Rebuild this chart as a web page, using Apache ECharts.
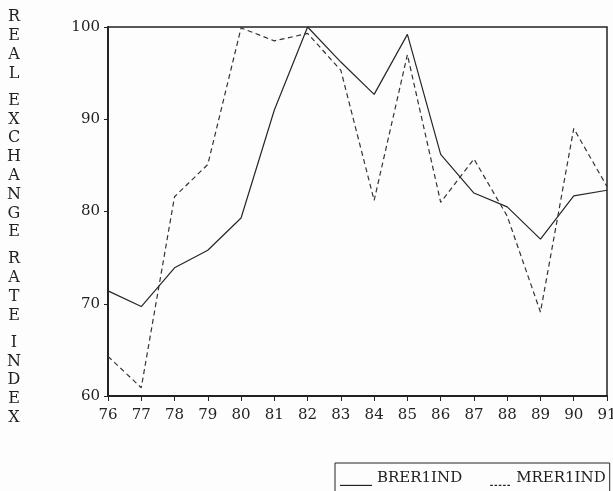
<!DOCTYPE html>
<html>
<head>
<meta charset="utf-8">
<script src="https://cdn.jsdelivr.net/npm/echarts@6/dist/echarts.min.js"></script>
<style>html,body{margin:0;padding:0;background:#fdfdfd;}#c{width:613px;height:491px;}</style>
</head>
<body>
<div id="c"></div>
<script>
var years = ['76','77','78','79','80','81','82','83','84','85','86','87','88','89','90','91'];
var brer1ind = [71.4, 69.7, 73.9, 75.8, 79.3, 91.0, 100.0, 96.2, 92.7, 99.2, 86.2, 82.0, 80.5, 77.0, 81.7, 82.3];
var mrer1ind = [64.3, 60.9, 81.6, 85.1, 99.9, 98.5, 99.3, 95.3, 81.2, 97.0, 81.0, 85.7, 79.5, 69.1, 89.0, 82.7];
var yTicks = [60, 70, 80, 90, 100];
var yTitle = 'REAL EXCHANGE RATE INDEX';

var FONT = '"DejaVu Serif", serif';
var INK = '#222';

// vertical stacked axis title
var titleEls = [];
var yPos = 17.3;
for (var i = 0; i < yTitle.length; i++) {
  var ch = yTitle[i];
  if (ch === ' ') { yPos += 27 - 18.8; continue; }
  titleEls.push({
    type: 'text',
    style: { text: ch, font: '16px ' + FONT, fill: INK, textAlign: 'center', textVerticalAlign: 'middle' },
    x: 14, y: yPos
  });
  yPos += 18.8;
}

var solidIcon = 'path://M0,0L0,0M0,14L32,14L32,15.2L0,15.2Z';
var dashIcon = 'path://M0,0L0,0M11,14h2.6v1.2h-2.6zM15.3,14h2.6v1.2h-2.6zM19.6,14h2.6v1.2h-2.6zM23.9,14h2.6v1.2h-2.6zM28.2,14h2.6v1.2h-2.6zM32,14L32,15.2L31.9,15.2Z';

var chart = echarts.init(document.getElementById('c'), null, { renderer: 'canvas' });
chart.setOption({
  backgroundColor: '#fdfdfd',
  animation: false,
  textStyle: { fontFamily: FONT, color: INK },
  grid: {
    left: 108, top: 27, right: 6, bottom: 95,
    containLabel: false, outerBoundsMode: 'none',
    show: true, borderColor: INK, borderWidth: 1.5, backgroundColor: 'transparent'
  },
  legend: {
    left: 335, top: 463,
    padding: [8, 4, 12, 5],
    borderColor: INK, borderWidth: 1,
    itemWidth: 32, itemHeight: 15, itemGap: 17,
    symbolKeepAspect: false,
    textStyle: { fontFamily: FONT, fontSize: 15, color: INK, padding: [0, 0, -4, 0] },
    data: [
      { name: 'BRER1IND', icon: solidIcon, itemStyle: { color: INK } },
      { name: 'MRER1IND', icon: dashIcon, itemStyle: { color: INK } }
    ]
  },
  xAxis: {
    type: 'category', data: years, boundaryGap: false,
    axisLine: { lineStyle: { color: INK, width: 2 } },
    axisTick: { show: true, length: 5, lineStyle: { color: INK, width: 1 } },
    axisLabel: { fontFamily: FONT, fontSize: 15, color: INK, margin: 12, interval: 0 },
    splitLine: { show: false }
  },
  yAxis: {
    type: 'value', min: yTicks[0], max: yTicks[yTicks.length - 1], interval: 10,
    axisLine: { show: true, lineStyle: { color: INK, width: 2 } },
    axisTick: { show: true, length: 4, lineStyle: { color: INK, width: 1 } },
    axisLabel: { fontFamily: FONT, fontSize: 15, color: INK, margin: 8 },
    splitLine: { show: false }
  },
  graphic: titleEls,
  series: [
    {
      name: 'BRER1IND', type: 'line', data: brer1ind, symbol: 'none',
      lineStyle: { color: '#262626', width: 1.2, type: 'solid' },
      itemStyle: { color: INK }
    },
    {
      name: 'MRER1IND', type: 'line', data: mrer1ind, symbol: 'none',
      lineStyle: { color: '#333', width: 1.2, type: [5, 3.5] },
      itemStyle: { color: INK }
    }
  ]
});
</script>
</body>
</html>
